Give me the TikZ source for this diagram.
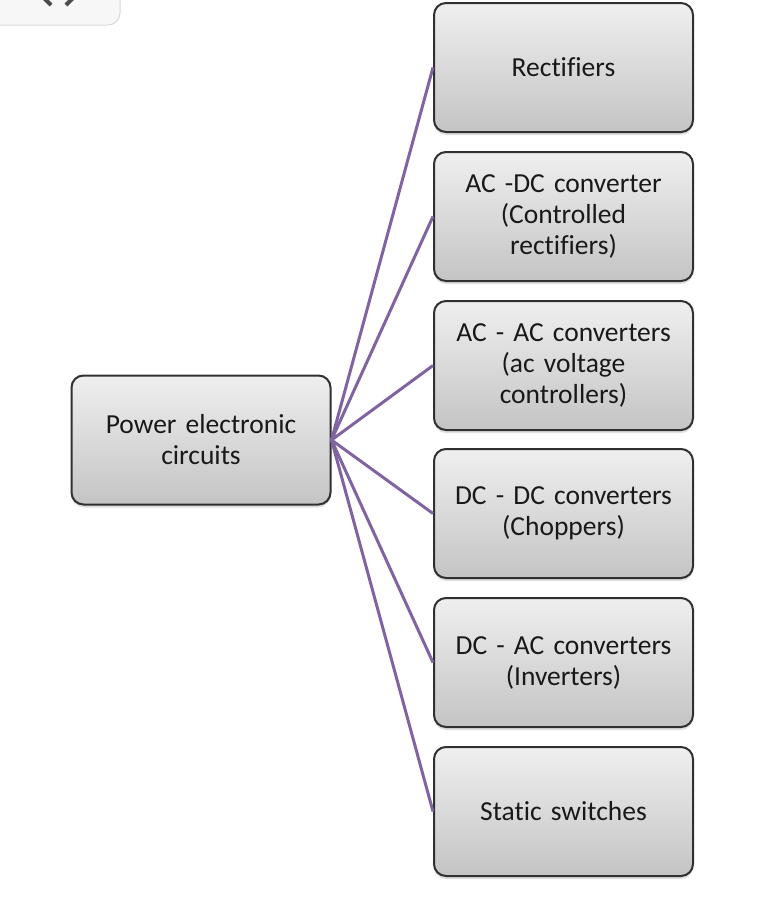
\documentclass[tikz,border=0pt]{standalone}
\usepackage{fontspec}
\setmainfont[RawFeature={-liga}]{Carlito}
\usetikzlibrary{shadows}
\definecolor{linkpurple}{HTML}{8064A2}
\definecolor{boxedge}{HTML}{303030}
\definecolor{topgrey}{HTML}{EFEFEF}
\definecolor{botgrey}{HTML}{C4C4C4}
\begin{document}
\begin{tikzpicture}[x=1pt,y=-1pt,
  boxnode/.style={draw=boxedge, line width=2pt, rounded corners=12pt,
    top color=topgrey, bottom color=botgrey, minimum width=259pt, minimum height=129pt,
    align=center, text width=250pt, font=\fontsize{27.5}{31}\selectfont, text=black!90,
    drop shadow={shadow xshift=0pt, shadow yshift=-3pt, opacity=0.25}},
  link/.style={draw=linkpurple, line width=3pt}]
\useasboundingbox (0,0) rectangle (768,924);
% partial UI button at top-left
\draw[draw=black!15, fill=black!3, line width=1pt, rounded corners=12pt] (-20,-30) rectangle (120,25);
\draw[black!70, line width=4pt] (42,-4) -- (51,5);
\draw[black!70, line width=4pt] (75,-4) -- (66,5);
% nodes
\node[boxnode] (root) at (201,440) {Power electronic\\circuits};
\node[boxnode] (b1) at (563.5,67.5) {Rectifiers};
\node[boxnode] (b2) at (563.5,216.5) {AC -DC converter\\(Controlled\\rectifiers)};
\node[boxnode] (b3) at (563.5,365.5) {AC - AC converters\\(ac voltage\\controllers)};
\node[boxnode] (b4) at (563.5,513.5) {DC - DC converters\\(Choppers)};
\node[boxnode] (b5) at (563.5,662.5) {DC - AC converters\\(Inverters)};
\node[boxnode] (b6) at (563.5,811.5) {Static switches};
% connectors
\foreach \b in {b1,b2,b3,b4,b5,b6}
  \draw[link] (root.east) -- (\b.west);
\end{tikzpicture}
\end{document}
